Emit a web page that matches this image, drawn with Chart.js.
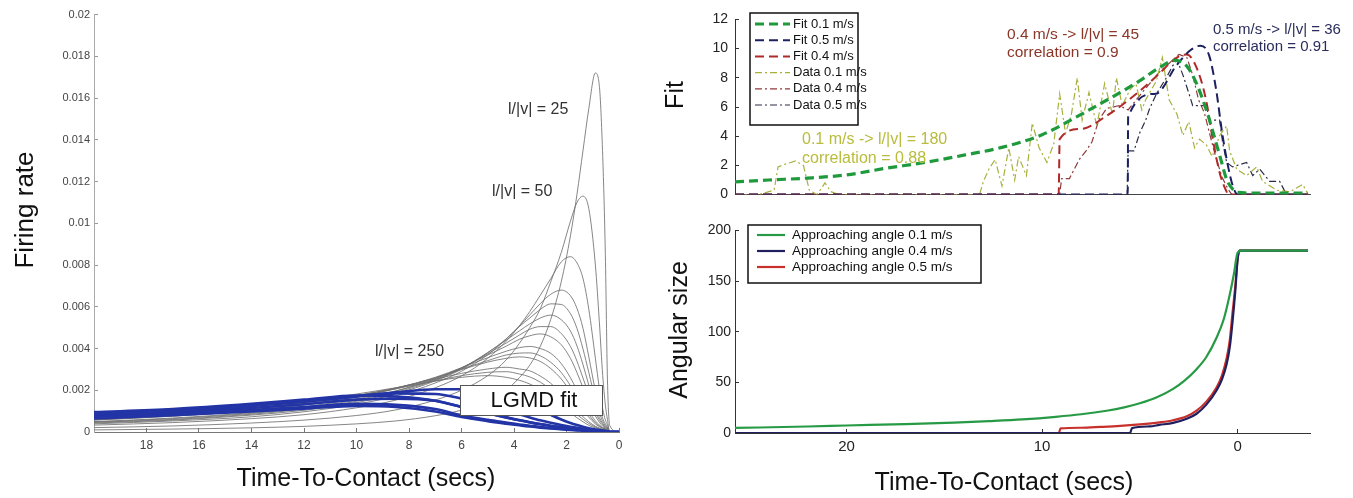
<!DOCTYPE html>
<html>
<head>
<meta charset="utf-8">
<script src="https://cdn.jsdelivr.net/npm/chart.js@4.4.1/dist/chart.umd.min.js"></script>
<style>
  html, body { margin: 0; padding: 0; background: #fff; }
  #wrap { position: relative; width: 1353px; height: 498px; overflow: hidden; }
  canvas { position: absolute; }
</style>
</head>
<body>
<div id="wrap">
  <canvas id="lgmd" width="640" height="498" style="left:0;top:0"></canvas>
  <canvas id="fit" width="713" height="214" style="left:640px;top:0"></canvas>
  <canvas id="angle" width="713" height="284" style="left:640px;top:214px"></canvas>
</div>
<script>
// ---- left panel: LGMD model curves, time-to-contact grid (secs) ----
const ttc = [20, 17, 14, 12, 10, 8.5, 7, 6, 5, 4.3, 3.8, 3.4, 3.0, 2.6, 2.2, 1.85, 1.6, 1.37, 1.15, 0.9, 0.75, 0.62, 0.52, 0.44, 0.35, 0];

const c25  = [0.0001, 0.00014, 0.0002, 0.00027, 0.00039, 0.00053, 0.00078, 0.00105, 0.0015, 0.002, 0.0026, 0.0032, 0.0041, 0.0054, 0.0072, 0.0094, 0.0114, 0.0135, 0.0155, 0.0172, 0.0166, 0.0132, 0.0085, 0.0025, 0.0003, 0];
const c50  = [0.00021, 0.00029, 0.00043, 0.00057, 0.00079, 0.00106, 0.00153, 0.002, 0.0027, 0.00345, 0.00424, 0.005, 0.0059, 0.0072, 0.0086, 0.0101, 0.011, 0.0113, 0.0107, 0.008, 0.0053, 0.0027, 0.0013, 0.0006, 0, 0];
const c75  = [0.00033, 0.00045, 0.00064, 0.00083, 0.00116, 0.00153, 0.00212, 0.00269, 0.00353, 0.00435, 0.00508, 0.00577, 0.00655, 0.00735, 0.00815, 0.0084, 0.0081, 0.00735, 0.00588, 0.00353, 0.0021, 0.0011, 0.00058, 0.00034, 0, 0];
const c100 = [0.00039, 0.00053, 0.00073, 0.00097, 0.00133, 0.00173, 0.00235, 0.00291, 0.0037, 0.00445, 0.00507, 0.00561, 0.00615, 0.0066, 0.0068, 0.00653, 0.00592, 0.00496, 0.0036, 0.00197, 0.00119, 0.00065, 0.00039, 0.00024, 0, 0];
const c112 = [0.00043, 0.00057, 0.00081, 0.00104, 0.00141, 0.00183, 0.00245, 0.00301, 0.0038, 0.00446, 0.00505, 0.00546, 0.00587, 0.00614, 0.00611, 0.00567, 0.00496, 0.00397, 0.00285, 0.00155, 0.00092, 0.00051, 0.00031, 0.0002, 0, 0];
const c125 = [0.00046, 0.0006, 0.00085, 0.0011, 0.00147, 0.0019, 0.00249, 0.00305, 0.00381, 0.0044, 0.00484, 0.00518, 0.00546, 0.0056, 0.00538, 0.00484, 0.00412, 0.00322, 0.00224, 0.00119, 0.0007, 0.00041, 0.00026, 0.00017, 0, 0];
const c137 = [0.00048, 0.00064, 0.00089, 0.00115, 0.00153, 0.00196, 0.00252, 0.00306, 0.00375, 0.00426, 0.00464, 0.00492, 0.00505, 0.00505, 0.00472, 0.0041, 0.00339, 0.00258, 0.00179, 0.00095, 0.00058, 0.00035, 0.00022, 0.00015, 0, 0];
const c150 = [0.0005, 0.00067, 0.00093, 0.0012, 0.00159, 0.00197, 0.00256, 0.00308, 0.00369, 0.00411, 0.00444, 0.00461, 0.0047, 0.00456, 0.00418, 0.00353, 0.00284, 0.00212, 0.00141, 0.00077, 0.00047, 0.00028, 0.00019, 0.00013, 0, 0];
const c175 = [0.00057, 0.00076, 0.00102, 0.00129, 0.00166, 0.00209, 0.00262, 0.00308, 0.00356, 0.00387, 0.00404, 0.0041, 0.004, 0.00377, 0.00328, 0.0026, 0.00201, 0.0015, 0.001, 0.00053, 0.00034, 0.00021, 0.00015, 0.0001, 0, 0];
const c187 = [0.00058, 0.00076, 0.00103, 0.00131, 0.00169, 0.00207, 0.00259, 0.00302, 0.00342, 0.00369, 0.00378, 0.00379, 0.00365, 0.00334, 0.00285, 0.00222, 0.00171, 0.00122, 0.00083, 0.00044, 0.00029, 0.00019, 0.00014, 0.0001, 0, 0];
const c200 = [0.0006, 0.00079, 0.00107, 0.00135, 0.00172, 0.00211, 0.00259, 0.00299, 0.00335, 0.00353, 0.0036, 0.00355, 0.00338, 0.00304, 0.00254, 0.00194, 0.00148, 0.00104, 0.00071, 0.00039, 0.00026, 0.00018, 0.00013, 0.00009, 0, 0];
const c225 = [0.00065, 0.00084, 0.00113, 0.00139, 0.00175, 0.00211, 0.00253, 0.00281, 0.00302, 0.0031, 0.00302, 0.00293, 0.00268, 0.00233, 0.00183, 0.00136, 0.00102, 0.00073, 0.00049, 0.00028, 0.00019, 0.00013, 0.0001, 0.00007, 0, 0];
const c237 = [0.00067, 0.00086, 0.00115, 0.00141, 0.00175, 0.00207, 0.00245, 0.0027, 0.00286, 0.00289, 0.00278, 0.00264, 0.00239, 0.00204, 0.0016, 0.00116, 0.00084, 0.00061, 0.00041, 0.00024, 0.00016, 0.00012, 0.00009, 0.00006, 0, 0];
const c250 = [0.00073, 0.00095, 0.00122, 0.00147, 0.00182, 0.00212, 0.00244, 0.00262, 0.0027, 0.00262, 0.00248, 0.0023, 0.00203, 0.00167, 0.00127, 0.00092, 0.00068, 0.00049, 0.00032, 0.0002, 0.00014, 0.0001, 0.00008, 0.00005, 0, 0];
const blue1 = [0.00085, 0.001, 0.00125, 0.00145, 0.0017, 0.0019, 0.00205, 0.00205, 0.0019, 0.0017, 0.0015, 0.00128, 0.00105, 0.00082, 0.0006, 0.00043, 0.00033, 0.00025, 0.00018, 0.00012, 0.00009, 0.00007, 0.00005, 0.00004, 0, 0];
const blue2 = [0.0009, 0.00106, 0.0013, 0.0015, 0.00172, 0.00185, 0.00182, 0.0016, 0.0013, 0.00105, 0.00085, 0.0007, 0.00056, 0.00044, 0.00033, 0.00025, 0.0002, 0.00015, 0.00011, 0.00008, 0.00006, 0.00005, 0.00004, 0.00003, 0, 0];
const blue3 = [0.00095, 0.0011, 0.00135, 0.00155, 0.00175, 0.0017, 0.0015, 0.0012, 0.0009, 0.0007, 0.00057, 0.00047, 0.00038, 0.0003, 0.00023, 0.00018, 0.00014, 0.00011, 0.00008, 0.00006, 0.00005, 0.00004, 0.00003, 0.00002, 0, 0];
const blue4 = [0.0007, 0.00085, 0.00105, 0.0012, 0.00135, 0.0013, 0.0011, 0.0008, 0.00058, 0.00045, 0.00036, 0.0003, 0.00024, 0.00019, 0.00015, 0.00012, 0.0001, 0.00008, 0.00006, 0.00005, 0.00004, 0.00003, 0.00002, 0.00001, 0, 0];
const blue5 = [0.00078, 0.00093, 0.00115, 0.00133, 0.00155, 0.0016, 0.0015, 0.0012, 0.0009, 0.0007, 0.00056, 0.00046, 0.00037, 0.00029, 0.00022, 0.00017, 0.00013, 0.0001, 0.00008, 0.00006, 0.00005, 0.00004, 0.00003, 0.00002, 0, 0];
const blue6 = [0.00065, 0.0008, 0.00098, 0.00112, 0.00125, 0.0012, 0.00098, 0.00072, 0.00052, 0.0004, 0.00032, 0.00026, 0.00021, 0.00017, 0.00013, 0.0001, 0.00008, 0.00006, 0.00005, 0.00004, 0.00003, 0.00002, 0.00001, 0.00001, 0, 0];

// ---- right top panel: fits and recorded data ----
const fit01T = [25.7, 24, 22, 20, 18, 16, 14, 12, 10, 8, 6, 5, 4, 3.2, 2.6, 2.1, 1.6, 1.2, 0.9, 0.55, 0.2, 0, -1, -3.6];
const fit01V = [0.87, 1.0, 1.13, 1.35, 1.8, 2.2, 2.7, 3.25, 4.1, 5.5, 7.0, 7.8, 8.7, 9.2, 8.8, 7.6, 5.8, 4.0, 2.6, 1.0, 0.3, 0.15, 0.1, 0.1];
const fit05T = [25.7, 5.62, 5.6, 4.2, 3.1, 2.4, 1.9, 1.45, 1.1, 0.8, 0.5, 0.25, 0, -3.6];
const fit05V = [0, 0, 5.3, 6.9, 8.9, 9.9, 10.2, 9.5, 7.2, 4.3, 2.0, 0.6, 0, 0];
const fit04T = [25.7, 9.15, 9.1, 8, 6.7, 5, 4, 3.2, 2.6, 2.1, 1.6, 1.3, 0.9, 0.6, 0.45, -3.6];
const fit04V = [0, 0, 3.8, 4.5, 5.4, 7.1, 8.3, 9.3, 9.6, 8.7, 6.4, 4.0, 1.4, 0.3, 0, 0];

const data01T = [25.7, 24.5, 23.7, 23.5, 23.1, 22.6, 22.2, 21.9, 21.5, 21.1, 20.8, 20.4, 13.2, 13.0, 12.7, 12.4, 12.05, 11.7, 11.4, 11.2, 10.8, 10.5, 10.15, 9.75, 9.4, 9.1, 8.8, 8.5, 8.2, 7.95, 7.6, 7.2, 6.8, 6.4, 6.2, 5.9, 5.5, 5.2, 4.9, 4.7, 4.15, 3.85, 3.5, 3.1, 2.8, 2.5, 2.2, 1.95, 1.6, 1.3, 0.92, 0.56, 0.41, 0.05, -0.46, -0.97, -1.28, -2.0, -2.67, -3.33, -3.6];
const data01V = [0, 0, 0.3, 1.9, 2.1, 2.3, 2.0, 0.3, 0, 0.8, 0.2, 0, 0, 0.9, 1.8, 2.4, 0.6, 3.2, 1.0, 2.6, 1.3, 4.9, 3.2, 2.2, 3.5, 6.9, 4.2, 5.5, 8.0, 5.1, 7.0, 4.7, 7.6, 5.5, 8.0, 6.1, 7.2, 7.6, 5.8, 6.5, 7.8, 9.4, 6.5, 5.5, 4.05, 5.0, 3.2, 3.8, 3.4, 2.6, 4.05, 4.7, 3.0, 1.75, 1.3, 1.9, 0.9, 0.3, 0.2, 0.7, 0];
const data04T = [25.7, 9.1, 9.0, 8.6, 8.1, 7.75, 7.45, 7.1, 6.7, 6.05, 5.6, 5.0, 4.5, 4.0, 3.5, 3.0, 2.6, 2.3, 2.0, 1.7, 1.4, 1.1, 0.8, 0.5, 0.3, -3.6];
const data04V = [0, 0, 1.1, 1.1, 2.4, 3.0, 3.6, 5.1, 5.9, 6.1, 5.8, 6.8, 7.6, 8.4, 9.0, 9.6, 9.4, 8.2, 6.5, 5.6, 4.0, 2.5, 1.2, 0.4, 0, 0];
const data05T = [25.7, 5.65, 5.6, 5.3, 5.0, 4.7, 4.5, 4.15, 3.65, 3.33, 3.1, 2.8, 2.46, 2.3, 1.6, 1.44, 0.92, 0.77, 0.56, 0.26, -0.46, -0.77, -1.13, -1.64, -2.15, -2.5, -3.6];
const data05V = [0, 0, 3.0, 3.0, 4.25, 5.1, 5.9, 6.9, 8.0, 8.8, 9.25, 8.2, 6.8, 6.1, 6.1, 5.1, 5.1, 3.6, 2.2, 1.9, 2.2, 1.3, 1.75, 0.9, 0.9, 0, 0];

// ---- right bottom panel: approaching angle (deg) ----
const ang01T = [25.7, 22, 20, 17, 14.5, 12.7, 11, 9.3, 8, 6.7, 5.8, 5, 4.1, 3.3, 2.7, 2.1, 1.6, 1.08, 0.7, 0.41, 0.2, 0, -0.2, -3.6];
const ang01V = [5.0, 6.4, 7.4, 8.8, 10.3, 11.8, 13.5, 16, 18.5, 22, 25.3, 29.3, 35.5, 43.5, 52, 63, 75, 94, 113, 136, 156, 178, 180, 180];
const ang04T = [25.7, 5.5, 5.4, 4.5, 4, 3.3, 2.6, 2.1, 1.6, 1.08, 0.8, 0.56, 0.4, 0.26, 0.12, 0, -0.1, -3.6];
const ang04V = [0, 0, 4.8, 6.5, 8, 10, 14, 19, 28, 42, 53, 68, 85, 110, 140, 172, 180, 180];
const ang05T = [25.7, 9.15, 9.05, 8, 7, 6, 5, 4, 3.3, 2.6, 2.1, 1.6, 1.08, 0.8, 0.56, 0.4, 0.26, 0.12, 0, -0.1, -3.6];
const ang05V = [0, 0, 4.5, 5.2, 6, 7, 8.5, 10.5, 12.6, 16.5, 22, 31, 45, 57, 74, 92, 119, 145, 172, 180, 180];

const FONT = "'Liberation Sans', Arial, sans-serif";
Chart.defaults.font.family = FONT;
Chart.defaults.animation = false;

const pts = (xs, ys) => xs.map((x, i) => ({ x: x, y: ys[i] }));

// text, boxes and framed legends drawn on top of the plot
function notes(cfg) {
  return {
    id: 'notes',
    afterDatasetsDraw(chart) {
      const ctx = chart.ctx;
      (cfg.boxes || []).forEach(b => {
        ctx.save();
        ctx.fillStyle = '#fff';
        ctx.fillRect(b.x, b.y, b.w, b.h);
        ctx.strokeStyle = '#555';
        ctx.lineWidth = 1;
        ctx.strokeRect(b.x + 0.5, b.y + 0.5, b.w, b.h);
        ctx.restore();
      });
      if (cfg.legend) {
        const lg = cfg.legend;
        ctx.save();
        ctx.fillStyle = '#fff';
        ctx.fillRect(lg.x, lg.y, lg.w, lg.h);
        ctx.strokeStyle = '#111';
        ctx.lineWidth = 1.5;
        ctx.strokeRect(lg.x, lg.y, lg.w, lg.h);
        ctx.font = lg.size + 'px ' + FONT;
        ctx.textBaseline = 'middle';
        ctx.textAlign = 'left';
        chart.data.datasets.forEach((ds, i) => {
          const y = lg.y0 + i * lg.step;
          ctx.save();
          ctx.strokeStyle = ds.borderColor;
          ctx.lineWidth = ds.borderWidth;
          ctx.setLineDash(ds.borderDash || []);
          ctx.beginPath();
          ctx.moveTo(lg.x1, y);
          ctx.lineTo(lg.x2, y);
          ctx.stroke();
          ctx.restore();
          ctx.fillStyle = '#111';
          ctx.fillText(ds.label, lg.tx, y);
        });
        ctx.restore();
      }
      (cfg.texts || []).forEach(t => {
        ctx.save();
        ctx.font = t.size + 'px ' + FONT;
        ctx.fillStyle = t.color || '#222';
        ctx.textAlign = t.align || 'left';
        ctx.textBaseline = 'middle';
        ctx.translate(t.x, t.y);
        if (t.rot) ctx.rotate(t.rot);
        ctx.fillText(t.text, 0, 0);
        ctx.restore();
      });
    }
  };
}

// ===== LEFT: LGMD fit family =====
const grayCurves = [
  ['l/|v| = 25', c25], ['l/|v| = 50', c50], ['l/|v| = 75', c75], ['l/|v| = 100', c100],
  ['l/|v| = 112', c112], ['l/|v| = 125', c125], ['l/|v| = 137', c137], ['l/|v| = 150', c150],
  ['l/|v| = 175', c175], ['l/|v| = 187', c187], ['l/|v| = 200', c200], ['l/|v| = 225', c225],
  ['l/|v| = 237', c237], ['l/|v| = 250', c250]
];
const blueCurves = [blue1, blue2, blue3, blue4, blue5, blue6];

const leftSets = [];
blueCurves.forEach((ys, i) => leftSets.push({
  label: 'blue ' + (i + 1), data: pts(ttc, ys),
  borderColor: '#2234a6', borderWidth: 2.6, pointRadius: 0, cubicInterpolationMode: 'monotone'
}));
grayCurves.forEach(([name, ys]) => leftSets.push({
  label: name, data: pts(ttc, ys),
  borderColor: '#707070', borderWidth: 0.85, pointRadius: 0, cubicInterpolationMode: 'monotone'
}));

new Chart(document.getElementById('lgmd'), {
  type: 'line',
  data: { datasets: leftSets },
  options: {
    responsive: false,
    layout: { padding: { left: 0, top: 13, right: 21, bottom: 0 } },
    plugins: { legend: { display: false }, tooltip: { enabled: false } },
    scales: {
      x: {
        type: 'linear', reverse: true, min: 0, max: 20,
        ticks: { stepSize: 2, includeBounds: false, padding: 10, color: '#444', font: { size: 12 },
                 callback: v => (v === 20 ? '' : v) },
        grid: { drawOnChartArea: false, tickLength: -4, color: '#777' },
        border: { color: '#777' },
        afterFit: s => { s.height = 66; }
      },
      y: {
        min: 0, max: 0.02,
        ticks: { stepSize: 0.002, padding: 8, color: '#444', font: { size: 11 },
                 callback: v => String(+v.toFixed(3)) },
        grid: { drawOnChartArea: false, tickLength: -4, color: '#999' },
        border: { color: '#aaa' },
        afterFit: s => { s.width = 94; }
      }
    }
  },
  plugins: [notes({
    boxes: [{ x: 460, y: 385, w: 142, h: 30 }],
    texts: [
      { text: 'LGMD fit', x: 534, y: 401, size: 22, color: '#111', align: 'center' },
      { text: 'l/|v| = 25', x: 508, y: 110, size: 16, color: '#333' },
      { text: 'l/|v| = 50', x: 492, y: 192, size: 16, color: '#333' },
      { text: 'l/|v| = 250', x: 375, y: 352, size: 16, color: '#333' },
      { text: 'Firing rate', x: 26, y: 210, size: 26, color: '#111', align: 'center', rot: -Math.PI / 2 },
      { text: 'Time-To-Contact (secs)', x: 366, y: 479, size: 25, color: '#111', align: 'center' }
    ]
  })]
});

// ===== RIGHT TOP: fits vs data =====
const DASH = [9, 5];
const DOTDASH = [7, 3, 2, 3];
const xRight = { type: 'linear', reverse: true, min: -3.7, max: 25.7 };

new Chart(document.getElementById('fit'), {
  type: 'line',
  data: {
    datasets: [
      { label: 'Fit 0.1 m/s', data: pts(fit01T, fit01V), borderColor: '#1e9a3c', borderWidth: 3.2, borderDash: DASH, cubicInterpolationMode: 'monotone' },
      { label: 'Fit 0.5 m/s', data: pts(fit05T, fit05V), borderColor: '#1c2060', borderWidth: 2, borderDash: DASH, cubicInterpolationMode: 'monotone' },
      { label: 'Fit 0.4 m/s', data: pts(fit04T, fit04V), borderColor: '#b02a2a', borderWidth: 2, borderDash: DASH, cubicInterpolationMode: 'monotone' },
      { label: 'Data 0.1 m/s', data: pts(data01T, data01V), borderColor: '#a8b03c', borderWidth: 1.2, borderDash: DOTDASH, tension: 0 },
      { label: 'Data 0.4 m/s', data: pts(data04T, data04V), borderColor: '#8e3b3b', borderWidth: 1.2, borderDash: DOTDASH, tension: 0 },
      { label: 'Data 0.5 m/s', data: pts(data05T, data05V), borderColor: '#2b2b48', borderWidth: 1.2, borderDash: DOTDASH, tension: 0 }
    ]
  },
  options: {
    responsive: false,
    elements: { point: { radius: 0 } },
    layout: { padding: { left: 0, top: 16, right: 43, bottom: 0 } },
    plugins: { legend: { display: false }, tooltip: { enabled: false } },
    scales: {
      x: Object.assign({}, xRight, {
        ticks: { display: false },
        grid: { drawOnChartArea: false, drawTicks: false },
        border: { color: '#444' },
        afterFit: s => { s.height = 6; }
      }),
      y: {
        min: 0, max: 12,
        ticks: { stepSize: 2, padding: 11, color: '#222', font: { size: 14 } },
        grid: { drawOnChartArea: false, tickLength: -4, color: '#333' },
        border: { color: '#333' },
        afterFit: s => { s.width = 95; }
      }
    }
  },
  plugins: [notes({
    legend: { x: 110, y: 13, w: 108, h: 112, y0: 24, step: 16.2, x1: 115, x2: 150, tx: 153, size: 13 },
    texts: [
      { text: 'Fit', x: 36, y: 95, size: 25, color: '#111', align: 'center', rot: -Math.PI / 2 },
      { text: '0.1 m/s -> l/|v| = 180', x: 162, y: 140, size: 16, color: '#b9bc3c' },
      { text: 'correlation = 0.88', x: 162, y: 159, size: 16, color: '#b9bc3c' },
      { text: '0.4 m/s -> l/|v| = 45', x: 367, y: 35, size: 15.5, color: '#8a3526' },
      { text: 'correlation = 0.9', x: 367, y: 53, size: 15.5, color: '#8a3526' },
      { text: '0.5 m/s -> l/|v| = 36', x: 573, y: 30, size: 15, color: '#2a2d5c' },
      { text: 'correlation = 0.91', x: 573, y: 47, size: 15, color: '#2a2d5c' }
    ]
  })]
});

// ===== RIGHT BOTTOM: approaching angle =====
new Chart(document.getElementById('angle'), {
  type: 'line',
  data: {
    datasets: [
      { label: 'Approaching angle 0.1 m/s', data: pts(ang01T, ang01V), borderColor: '#279a45', borderWidth: 2.2, cubicInterpolationMode: 'monotone' },
      { label: 'Approaching angle 0.4 m/s', data: pts(ang04T, ang04V), borderColor: '#20205e', borderWidth: 2.2, cubicInterpolationMode: 'monotone' },
      { label: 'Approaching angle 0.5 m/s', data: pts(ang05T, ang05V), borderColor: '#c8302c', borderWidth: 2.2, cubicInterpolationMode: 'monotone' }
    ]
  },
  options: {
    responsive: false,
    elements: { point: { radius: 0 } },
    layout: { padding: { left: 0, top: 13, right: 43, bottom: 0 } },
    plugins: { legend: { display: false }, tooltip: { enabled: false } },
    scales: {
      x: Object.assign({}, xRight, {
        ticks: { stepSize: 10, includeBounds: false, padding: 9, color: '#222', font: { size: 15 } },
        grid: { drawOnChartArea: false, tickLength: -4, color: '#333' },
        border: { color: '#333' },
        afterFit: s => { s.height = 65; }
      }),
      y: {
        min: 0, max: 200,
        ticks: { stepSize: 50, padding: 8, color: '#222', font: { size: 14 } },
        grid: { drawOnChartArea: false, tickLength: -4, color: '#333' },
        border: { color: '#333' },
        afterFit: s => { s.width = 95; }
      }
    }
  },
  plugins: [notes({
    legend: { x: 108, y: 11, w: 233, h: 58, y0: 21, step: 16, x1: 117, x2: 145, tx: 152, size: 13.5 },
    texts: [
      { text: 'Angular size', x: 40, y: 116, size: 25, color: '#111', align: 'center', rot: -Math.PI / 2 },
      { text: 'Time-To-Contact (secs)', x: 364, y: 269, size: 25, color: '#111', align: 'center' }
    ]
  })]
});
</script>
</body>
</html>
